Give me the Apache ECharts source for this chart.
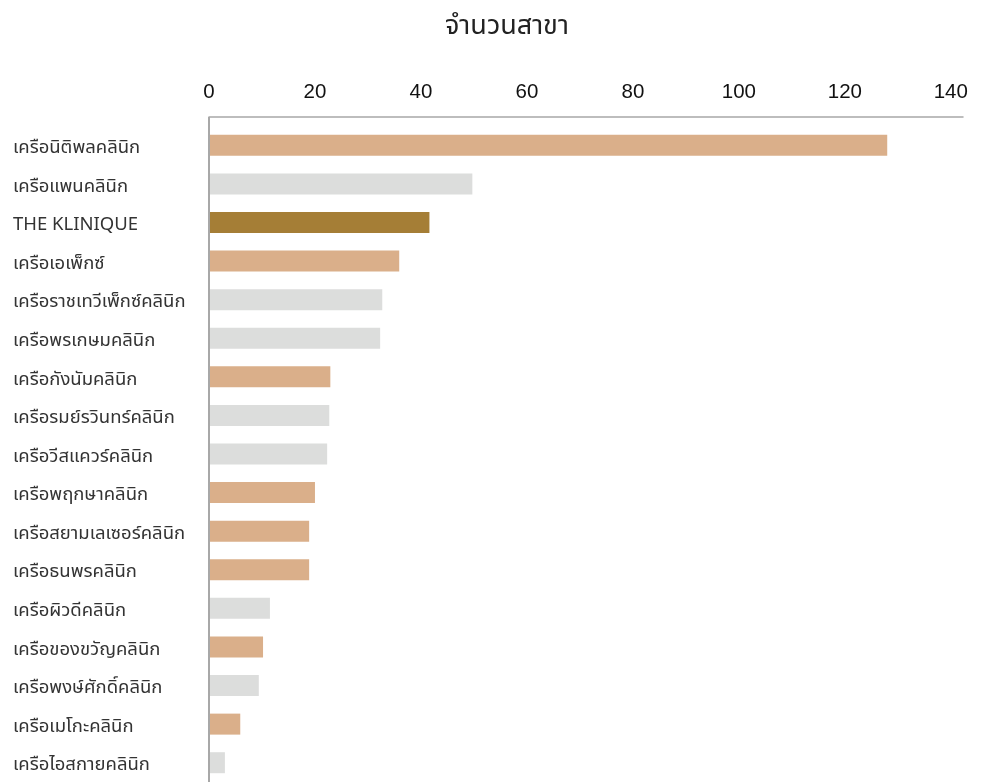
<!DOCTYPE html>
<html>
<head>
<meta charset="utf-8">
<script src="https://cdn.jsdelivr.net/npm/echarts@6/dist/echarts.min.js"></script>
<style>
html,body{margin:0;padding:0;background:#fff;}
#chart{width:984px;height:782px;}
</style>
</head>
<body>
<div id="chart"></div>
<script>
const titleText = "จำนวนสาขา";
const categories = [
  "เครือนิติพลคลินิก",
  "เครือแพนคลินิก",
  "THE KLINIQUE",
  "เครือเอเพ็กซ์",
  "เครือราชเทวีเพ็กซ์คลินิก",
  "เครือพรเกษมคลินิก",
  "เครือกังนัมคลินิก",
  "เครือรมย์รวินทร์คลินิก",
  "เครือวีสแควร์คลินิก",
  "เครือพฤกษาคลินิก",
  "เครือสยามเลเซอร์คลินิก",
  "เครือธนพรคลินิก",
  "เครือผิวดีคลินิก",
  "เครือของขวัญคลินิก",
  "เครือพงษ์ศักดิ์คลินิก",
  "เครือเมโกะคลินิก",
  "เครือไอสกายคลินิก"
];
const values = [128, 49.7, 41.6, 35.9, 32.7, 32.3, 22.9, 22.7, 22.3, 20, 18.9, 18.9, 11.5, 10.2, 9.4, 5.9, 3];
// colour group per bar: "tan", "gray", "gold"
const groups = ["tan","gray","gold","tan","gray","gray","tan","gray","gray","tan","tan","tan","gray","tan","gray","tan","gray"];
const groupColors = {tan: "#DAAF8A", gray: "#DCDDDC", gold: "#A57E36"};

const FONT = "'Noto Sans Thai', 'Noto Sans', 'DejaVu Sans', sans-serif";
const chart = echarts.init(document.getElementById('chart'));
const gridTop = 126, gridLeft = 209;
chart.setOption({
  animation: false,
  backgroundColor: "#fff",
  title: {
    text: titleText, left: 440, top: 10,
    textStyle: {fontFamily: FONT, fontSize: 27, fontWeight: 'normal', color: '#222'}
  },
  grid: {left: gridLeft, right: 21, top: gridTop, height: 659},
  xAxis: {
    type: 'value', position: 'top', offset: 9,
    min: 0, max: 142.3, interval: 20,
    axisLine: {show: true, lineStyle: {color: '#a8a8a8', width: 1.5}},
    axisTick: {show: false},
    splitLine: {show: false},
    axisLabel: {showMaxLabel: false, margin: 14, fontFamily: 'Liberation Sans, Arial, sans-serif', fontSize: 20.5, color: '#111'}
  },
  yAxis: {
    type: 'category', data: categories, inverse: true, z: 5,
    axisLine: {show: true, lineStyle: {color: '#a8a8a8', width: 2}},
    axisTick: {show: false},
    axisLabel: {align: 'left', margin: 196, verticalAlign: 'top', lineHeight: 8, fontFamily: FONT, fontSize: 18.5, color: '#333'}
  },
  graphic: [{
    type: 'line', silent: true,
    shape: {x1: gridLeft, y1: gridTop - 9, x2: gridLeft, y2: gridTop},
    style: {stroke: '#a8a8a8', lineWidth: 2}
  }],
  series: [{
    type: 'bar', barWidth: 21,
    data: values.map((v, i) => ({value: v, itemStyle: {color: groupColors[groups[i]]}}))
  }]
});
</script>
</body>
</html>
